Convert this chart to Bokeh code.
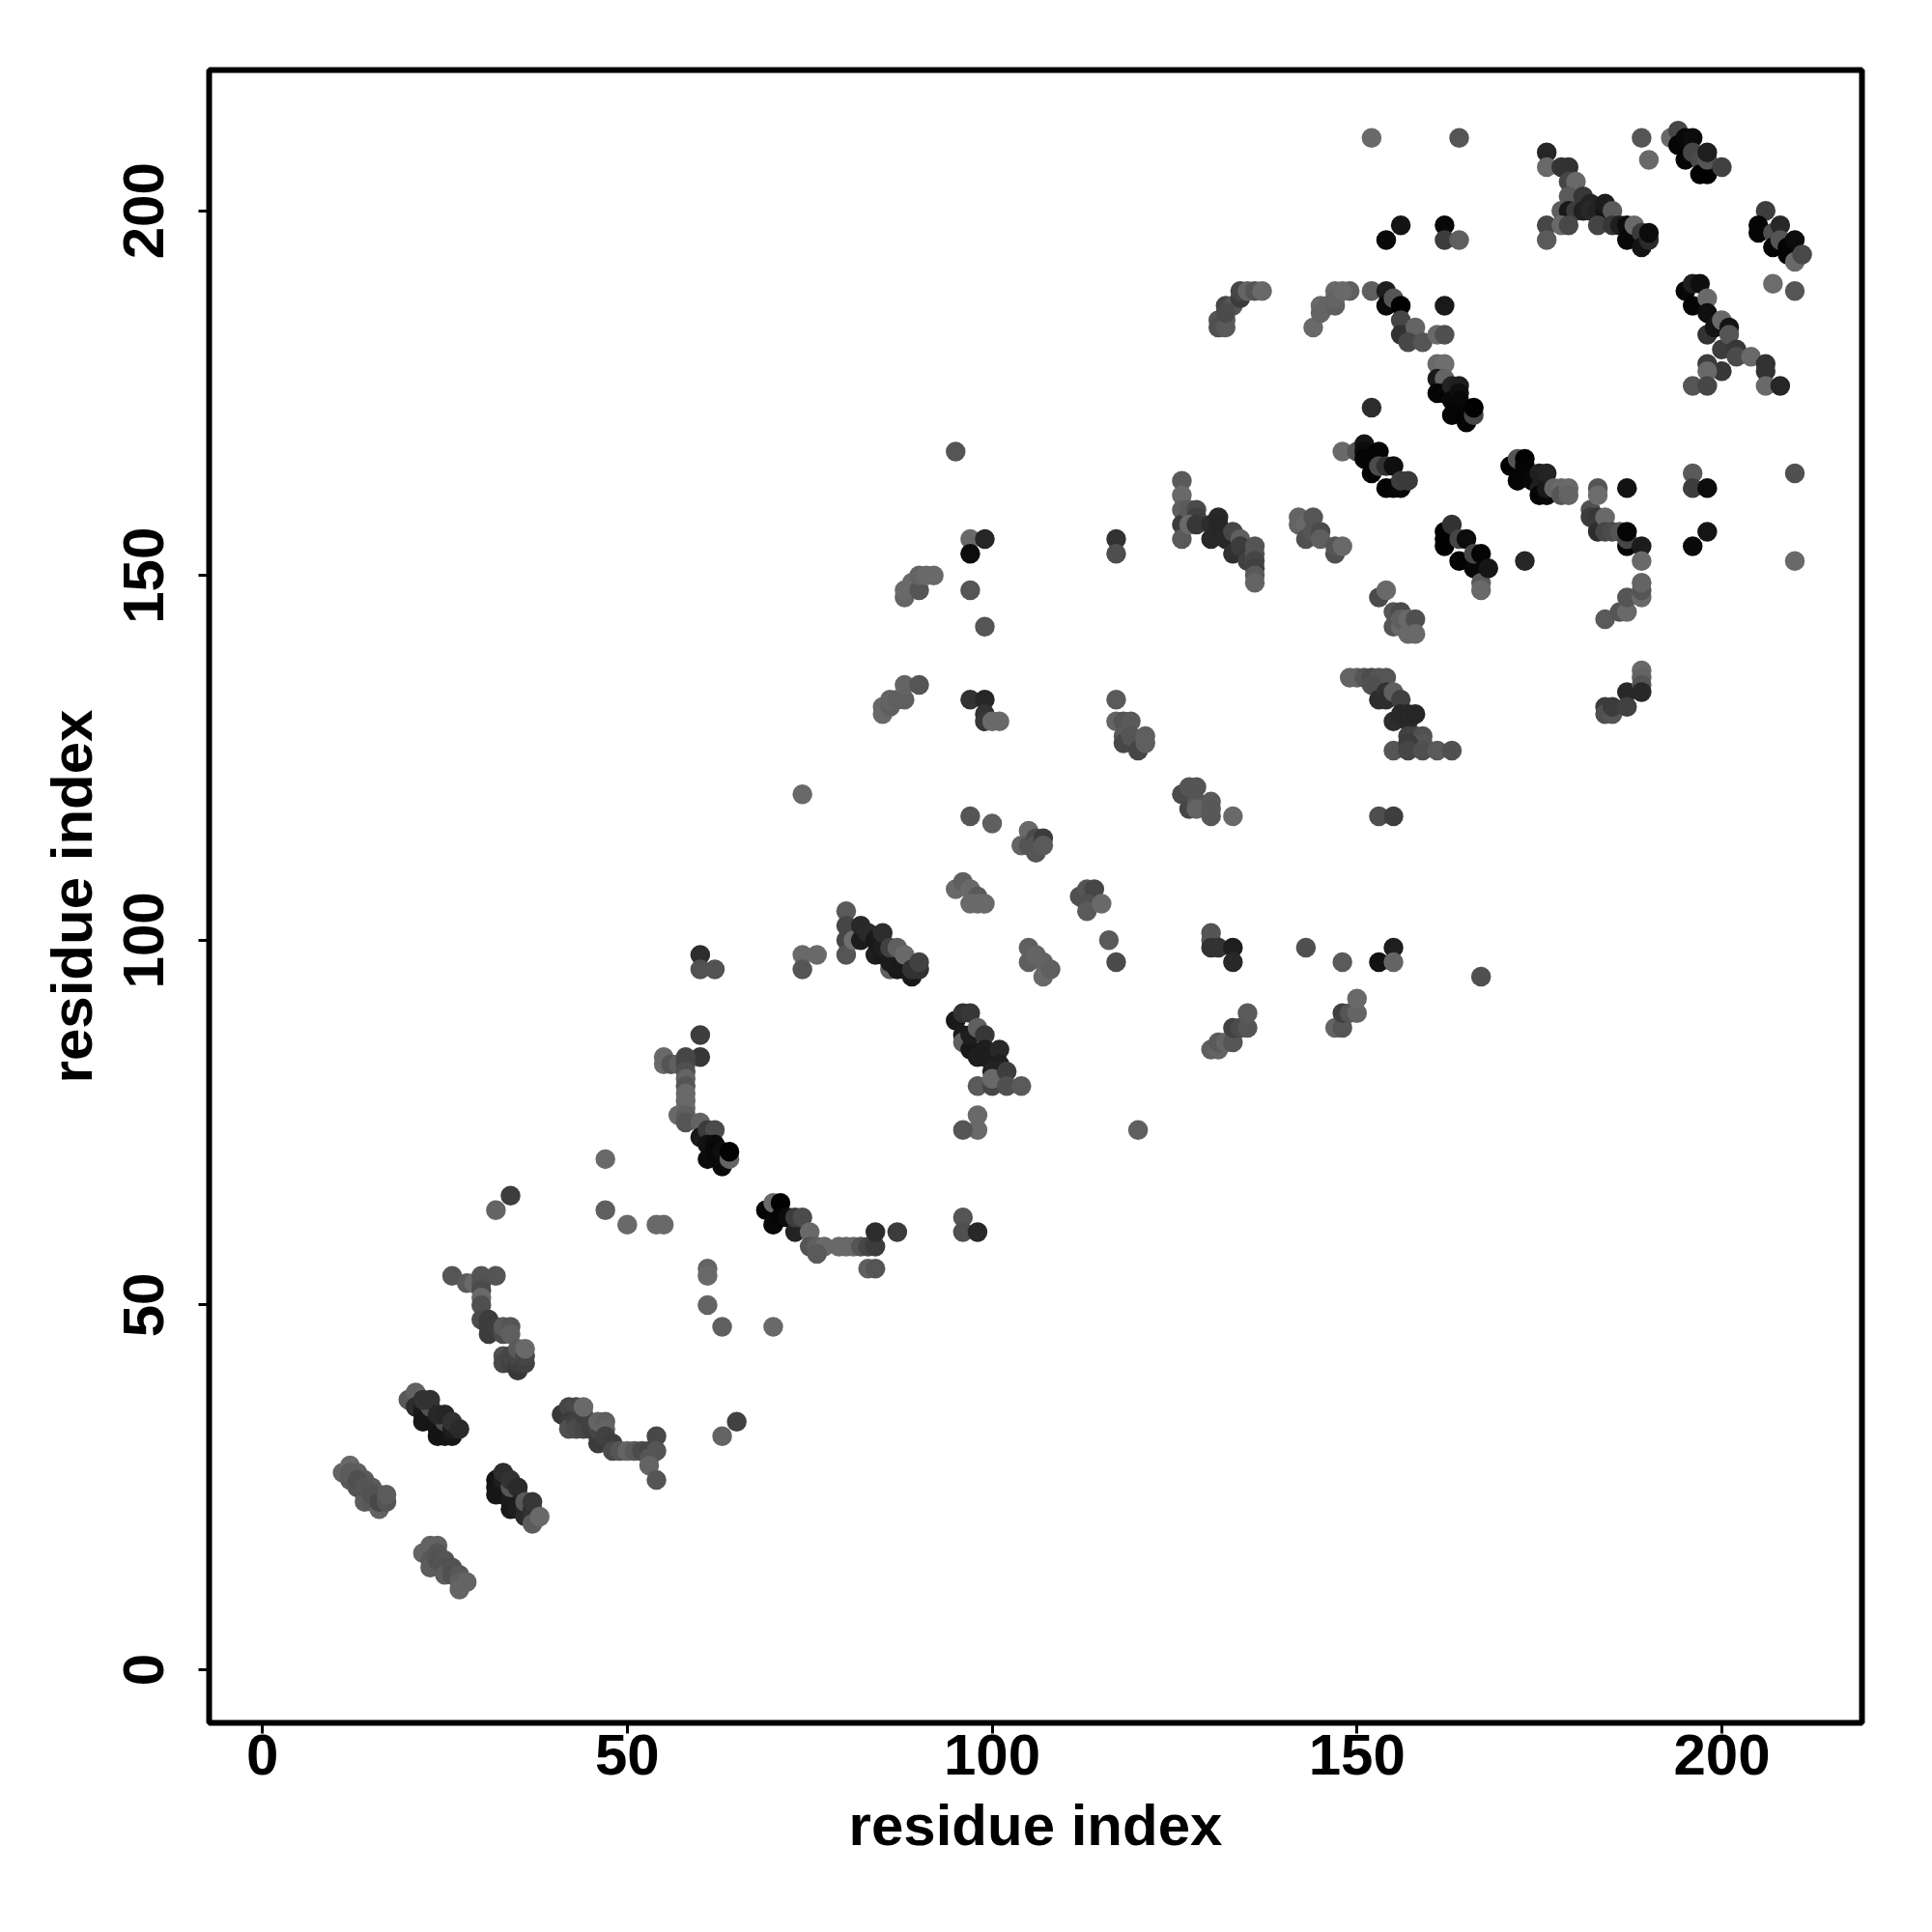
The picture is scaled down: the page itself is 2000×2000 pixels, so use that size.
from bokeh.plotting import figure
from bokeh.models import Range1d, FixedTicker
from bokeh.embed import file_html
from bokeh.resources import INLINE

tick_values = [0, 50, 100, 150, 200]
axis_title = "residue index"

# contact groups: (residue i, residue j, grey level)
helix_a = [(11,27,100),(12,28,105),(12,26,88),(13,27,95),(13,25,84),(14,26,90),(14,24,82),(14,23,92),(15,25,90),(15,23,88),(16,24,90),(16,22,98),(12,27,92),(13,26,80),(14,25,85),(15,24,82),(16,23,72),(17,23,85),(17,24,92)]
helix_b = [(22,16,100),(23,17,98),(24,17,98),(23,15,88),(23,14,92),(24,16,85),(24,15,82),(25,15,85),(25,14,82),(25,13,92),(26,14,82),(26,13,80),(27,13,88),(27,12,95),(27,11,100),(28,12,100)]
helix_c = [(20,37,88),(21,38,98),(21,36,45),(22,36,30),(22,35,25),(22,34,22),(23,35,22),(23,36,80),(24,34,22),(24,33,22),(25,33,25),(24,32,20),(25,32,20),(26,32,22),(25,34,75),(26,33,30),(22,37,50),(23,37,50),(24,35,40),(25,35,38),(26,34,50),(27,33,42)]
helix_d = [(32,26,20),(32,25,20),(32,24,22),(33,25,25),(33,24,22),(33,26,30),(33,27,45),(34,24,25),(34,23,28),(34,22,25),(35,24,30),(35,23,28),(35,22,30),(34,25,85),(34,26,50),(35,25,42),(36,22,38),(36,21,42),(36,23,88),(37,22,45),(37,21,50),(37,20,92),(37,23,55),(38,21,105)]
group_e = [(26,54,85),(28,53,90),(29,53,105),(30,54,85),(32,54,85),(30,53,82),(30,52,75),(30,51,105),(30,50,80),(30,48,75),(31,48,60),(31,47,60),(31,46,60),(32,47,62),(33,43,80),(33,42,72),(33,46,75),(34,42,65),(35,41,55),(34,43,70),(35,42,62),(35,43,70),(36,42,65),(33,47,90),(34,47,85),(34,46,95),(35,44,90),(36,43,70),(36,44,105)]
group_f = [(41,35,55),(42,36,70),(43,36,72),(42,34,60),(42,33,80),(43,34,65),(43,33,75),(44,33,70),(44,35,65),(44,36,105),(45,33,65),(46,31,60),(46,32,60),(46,33,70),(46,34,100),(47,34,95),(47,33,100),(47,32,65),(48,31,62),(48,30,75),(49,30,85),(50,30,100),(51,30,90),(52,30,75),(53,30,70),(54,32,72),(54,30,85),(53,29,85),(53,28,100),(54,26,85)]
group_g = [(80,104,90),(80,102,70),(80,100,70),(80,98,85),(81,100,110),(82,100,28),(82,102,40),(83,101,42),(84,98,30),(84,100,25),(85,98,25),(85,99,30),(85,101,45),(86,96,95),(86,97,28),(86,99,65),(87,96,25),(87,99,95),(88,96,25),(88,98,105),(89,95,25),(89,96,50),(90,96,50),(90,97,65)]
group_h = [(95,89,25),(96,90,50),(97,90,55),(96,87,28),(96,86,95),(97,85,25),(98,84,30),(97,87,30),(98,88,95),(99,87,55),(99,85,30),(99,84,28),(100,84,30),(101,85,40),(101,83,32),(101,82,35),(100,82,35),(98,80,90),(100,80,70),(100,81,105),(102,82,62),(102,80,80),(104,80,90)]
group_ring = [(55,84,105),(55,83,105),(56,83,85),(57,83,95),(60,87,62),(60,84,55),(58,84,70),(58,83,70),(58,82,80),(58,81,100),(58,80,85),(58,79,105),(57,76,105),(58,78,105),(58,77,105),(58,76,95),(58,75,85),(60,75,100),(60,73,25),(61,74,60),(62,74,75),(61,72,18),(62,72,10),(61,70,12),(62,71,8),(63,69,10),(63,71,15),(64,70,100),(64,71,2)]
group_i = [(69,63,5),(70,64,105),(71,64,2),(70,61,8),(71,62,5),(72,62,12),(73,60,35),(73,62,60),(74,62,75),(75,60,105),(75,58,85),(76,58,95),(77,58,105),(76,57,90),(79,58,105),(80,58,105),(81,58,105),(82,58,85),(83,58,70),(84,58,60),(84,60,45),(83,55,95),(84,55,85),(87,60,60)]
group_j = [(126,163,90),(126,161,105),(126,159,95),(126,157,60),(126,155,90),(127,159,90),(128,159,75),(128,158,65),(127,157,105),(128,157,55),(130,157,45),(130,155,40),(131,158,40),(131,157,38),(132,155,40),(133,153,48),(133,156,70),(134,155,95),(134,154,60),(135,153,58),(135,152,65),(136,154,85),(136,153,85),(136,152,70),(136,151,65),(136,150,90),(136,149,100)]
group_k = [(142,158,100),(142,157,100),(143,157,105),(143,155,80),(144,158,85),(144,156,85),(145,156,75),(145,155,95),(147,153,80),(147,154,85),(148,154,105)]
group_l = [(148,167,105),(150,167,85),(151,168,20),(151,167,12),(151,166,5),(152,164,5),(153,167,5),(153,165,75),(154,162,2),(154,165,50),(155,162,5),(155,165,15),(156,162,8),(156,163,60),(157,163,58)]
group_m = [(162,156,2),(162,155,2),(162,154,2),(163,157,50),(164,152,3),(164,155,70),(165,155,12),(166,151,8),(166,153,70),(167,149,90),(167,148,105),(167,153,4),(168,151,22)]
group_n = [(153,147,75),(154,148,105),(155,145,85),(155,143,85),(156,145,75),(156,143,105),(156,144,95),(157,144,105),(157,142,105),(158,144,80),(158,142,105)]
group_o = [(149,136,100),(150,136,100),(151,136,85),(152,136,75),(153,136,85),(154,136,85),(152,135,80),(153,133,45),(154,134,50),(154,133,45),(155,134,95),(156,133,65),(155,130,45),(156,131,40),(157,131,38),(157,130,40),(158,131,38),(157,128,65),(158,128,65),(159,128,80),(159,127,85),(155,126,85),(157,127,60),(157,126,70),(159,126,80),(161,126,90),(163,126,80)]
group_p = [(117,133,90),(117,130,100),(118,130,85),(119,130,90),(118,128,90),(118,127,72),(119,128,85),(120,127,85),(120,126,70),(121,128,95),(121,127,95)]
group_q = [(126,120,75),(127,121,85),(128,121,85),(127,118,70),(128,119,85),(128,118,100),(130,119,90),(130,118,88),(130,117,88),(133,117,105)]
group_r = [(176,208,38),(176,206,105),(178,206,52),(179,206,50),(179,204,70),(180,204,105),(179,202,90),(178,200,95),(179,200,25),(180,200,60),(181,202,55),(181,200,32),(182,201,35),(182,200,40),(183,200,35),(184,200,20),(184,201,28),(185,200,90),(176,198,70),(176,196,90),(178,198,105),(179,198,72),(183,198,68),(185,198,55),(186,198,30),(187,198,12),(187,196,8),(188,198,105),(189,197,58),(189,195,20),(190,196,42),(190,197,12)]
group_s = [(189,210,85),(190,207,105),(193,210,105),(194,211,70),(194,209,5),(195,210,8),(195,207,5),(196,210,12),(196,208,70),(197,207,75),(197,205,2),(198,205,2),(198,207,85),(198,208,30),(200,206,65)]
group_t = [(206,200,62),(205,198,5),(205,197,5),(207,197,78),(207,195,5),(208,198,40),(208,196,85),(209,195,5),(209,194,5),(210,193,105),(210,196,12),(211,194,72),(207,190,108),(210,189,85)]
group_u = [(195,189,8),(196,190,30),(197,190,15),(196,187,5),(198,188,105),(198,186,15),(198,183,50),(199,184,20),(200,185,105),(200,181,60),(200,178,55),(201,184,20),(201,183,85),(202,181,55),(202,180,75),(204,180,105),(198,179,60),(198,178,105),(206,179,50),(206,178,50),(196,176,85),(198,176,70),(206,176,105),(208,176,38)]
group_v = [(147,189,105),(149,189,95),(152,189,95),(154,189,30),(154,187,10),(155,188,85),(156,187,2),(156,185,70),(156,183,50),(158,184,100),(157,182,72),(159,182,85),(161,183,105),(162,183,80),(162,187,25)]
group_w = [(161,179,105),(162,179,110),(161,177,25),(162,177,100),(161,175,5),(162,175,5),(163,176,35),(163,174,8),(164,176,30),(164,175,15),(164,174,8),(163,172,5),(165,172,5),(165,171,5),(166,172,70),(166,173,2)]
group_x = [(171,165,2),(172,166,85),(172,163,5),(173,166,2),(173,165,3),(173,164,5),(174,163,8),(175,164,32),(175,162,30),(175,161,5),(176,161,8),(176,162,25),(176,164,35),(177,162,100),(178,162,105),(178,161,85),(179,162,105),(179,161,100)]
group_y = [(182,159,80),(182,158,60),(183,162,85),(183,161,108),(183,158,55),(183,157,58),(183,156,45),(184,158,105),(184,156,70),(185,156,75),(186,156,85),(187,154,5),(187,155,70),(187,156,5),(187,162,18),(189,154,28),(189,152,105)]
group_z = [(184,144,90),(186,145,85),(187,145,105),(187,147,85),(189,147,105),(189,148,85),(189,149,100),(184,132,60),(184,131,80),(185,131,85),(185,132,60),(187,134,40),(187,132,65),(189,137,105),(189,136,100),(189,135,85),(189,134,40)]
group_top = [(131,185,85),(132,185,95),(131,184,80),(132,184,90),(132,187,70),(133,187,85),(132,186,75),(134,188,60),(134,189,70),(135,189,100),(136,189,85),(137,189,105),(144,184,105),(145,187,105),(146,187,100),(145,186,100),(147,187,95),(147,188,100),(148,189,105)]
group_mid = [(95,167,85),(97,155,105),(99,155,38),(97,153,12),(97,148,85),(99,143,85),(88,147,100),(88,148,105),(89,149,105),(90,148,85),(90,150,100),(91,150,105),(92,150,105),(85,131,105),(85,132,105),(86,132,95),(86,133,100),(87,133,95),(88,133,95),(88,135,100),(90,135,85),(97,133,50),(99,133,38),(99,131,50),(99,130,55),(100,130,105),(101,130,105)]
group_low = [(95,107,105),(96,108,95),(97,107,105),(98,106,90),(97,105,105),(98,105,105),(99,105,105),(104,113,100),(105,115,105),(105,113,85),(106,114,75),(106,113,85),(106,112,85),(107,114,60),(107,113,90),(112,106,80),(113,107,85),(114,107,70),(113,105,80),(113,104,90),(115,105,105),(105,99,95),(105,97,95),(106,98,100),(107,97,100),(107,95,105),(108,96,95)]
group_right = [(130,101,85),(130,100,85),(130,99,50),(131,99,50),(133,99,30),(133,97,40),(130,85,95),(131,85,100),(131,86,90),(132,86,100),(133,86,85),(133,88,65),(134,88,75),(135,88,85),(135,90,90),(147,88,100),(148,88,85),(148,90,65),(149,90,85),(150,90,100),(150,92,105)]
singles = [(47,70,105),(47,63,95),(50,61,105),(54,61,105),(55,61,105),(34,65,62),(32,63,100),(63,32,100),(65,34,65),(61,55,100),(61,54,105),(61,50,100),(63,47,95),(70,47,105),(74,120,105),(97,117,85),(100,116,95),(60,98,45),(60,96,82),(62,96,82),(74,98,105),(76,98,105),(74,96,85),(98,76,105),(98,74,105),(96,74,85),(120,74,95),(96,62,85),(96,60,80),(98,60,40),(116,100,90),(117,97,75),(143,99,80),(148,97,90),(153,97,18),(155,99,30),(155,97,100),(167,95,80),(117,155,50),(117,153,78),(173,152,38),(153,117,78),(155,117,62),(152,210,105),(164,210,85),(156,198,20),(154,196,8),(162,198,8),(162,196,60),(164,196,95),(152,173,45),(196,164,90),(196,162,62),(198,162,12),(210,164,80),(198,156,20),(196,154,10),(210,152,105)]

groups = [helix_a, helix_b, helix_c, helix_d, group_e, group_f, group_g, group_h, group_ring, group_i, group_j, group_k, group_l, group_m, group_n, group_o, group_p, group_q, group_r, group_s, group_t, group_u, group_v, group_w, group_x, group_y, group_z, group_top, group_mid, group_low, group_right, singles]

xs, ys, colors = [], [], []
for group in groups:
    for i, j, g in group:
        xs.append(i)
        ys.append(j)
        colors.append("#%02x%02x%02x" % (g, g, g))

p = figure(width=2000, height=2000, output_backend="svg", toolbar_location=None,
           x_range=Range1d(-7.3, 219.2), y_range=Range1d(-7.29, 219.3),
           min_border_left=216, min_border_right=73, min_border_top=72, min_border_bottom=217)
p.scatter(xs, ys, size=20.5, fill_color=colors, line_color=None, marker="circle")

p.grid.visible = False
p.background_fill_color = "white"
p.border_fill_color = "white"
p.outline_line_color = "black"
p.outline_line_width = 6

for ax in (p.xaxis[0], p.yaxis[0]):
    ax.ticker = FixedTicker(ticks=tick_values)
    ax.axis_line_color = None
    ax.major_tick_in = 0
    ax.major_tick_out = 11
    ax.major_tick_line_width = 3
    ax.major_tick_line_color = "black"
    ax.minor_tick_line_color = None
    ax.major_label_text_font = "Liberation Sans"
    ax.major_label_text_font_style = "bold"
    ax.major_label_text_font_size = "60px"
    ax.major_label_text_color = "black"
    ax.axis_label = axis_title
    ax.axis_label_text_font = "Liberation Sans"
    ax.axis_label_text_font_style = "bold"
    ax.axis_label_text_font_size = "60px"
    ax.axis_label_text_color = "black"

p.xaxis[0].major_label_standoff = 1
p.xaxis[0].axis_label_standoff = 16
p.yaxis[0].major_label_orientation = "parallel"
p.yaxis[0].major_label_standoff = 36
p.yaxis[0].axis_label_standoff = 18

open("out.html", "w").write(file_html(p, INLINE))
